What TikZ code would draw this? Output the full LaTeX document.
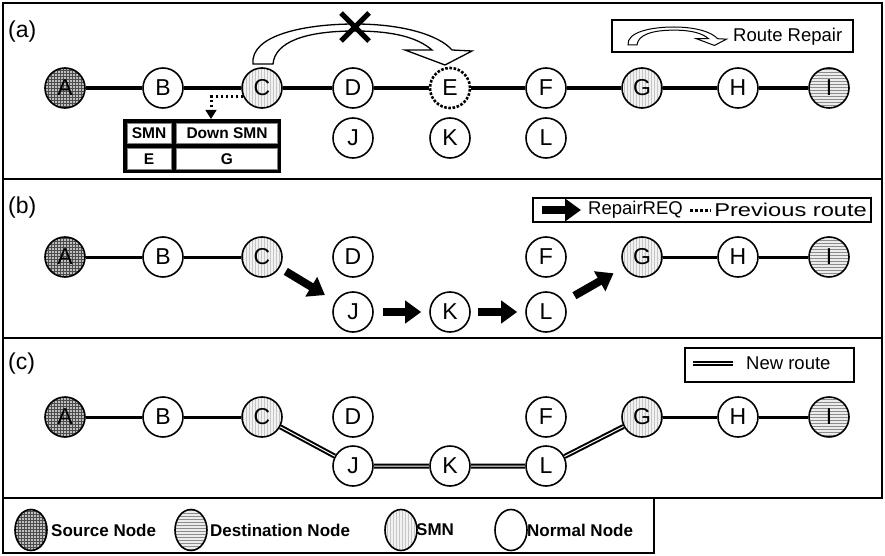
\documentclass[tikz,border=0pt]{standalone}
\usepackage{fontspec}
\setmainfont{Liberation Sans}
\usetikzlibrary{arrows.meta,patterns,shapes.geometric,calc}
\newcommand\RRdraw[1]{\draw[#1] (253,64) .. controls (250,35) and (305,24) .. (355,24)
 .. controls (405,24) and (440,36) .. (452,50)
 -- (472,51) -- (445,65) -- (405,50) -- (432,50)
 .. controls (418,38) and (395,31) .. (355,31)
 .. controls (305,31) and (275,42) .. (273,64) -- cycle;}
\begin{document}
\begin{tikzpicture}[x=1pt,y=-1pt,
 nd/.style={circle,draw,line width=1.6pt,minimum size=40pt,inner sep=0pt,font=\fontsize{23}{23}\selectfont},
 nrm/.style={nd,fill=white},
 src/.style={nd,preaction={fill=gray!50},pattern=grid,pattern color=black!70},
 dst/.style={nd,preaction={fill=gray!15},pattern=horizontal lines,pattern color=gray!90},
 smn/.style={nd,preaction={fill=gray!10},pattern=vertical lines,pattern color=gray!45},
 lell/.style={ellipse,minimum width=32pt,minimum height=41pt},
 frame/.style={line width=2.2pt},
 lbl/.style={font=\fontsize{23}{23}\selectfont,anchor=west,inner sep=0pt},
 lgt/.style={font=\fontsize{18.5}{18.5}\selectfont,anchor=west,inner sep=0pt},
 lgb/.style={font=\fontsize{17}{17}\selectfont\bfseries,anchor=west,inner sep=0pt},
 tbt/.style={font=\fontsize{15.5}{15.5}\selectfont\bfseries,inner sep=0pt},
 link/.style={line width=3pt},
 linka/.style={line width=4pt},
 blk/.style={line width=8pt,-{Triangle[length=16pt,width=22pt]}},
 newr/.style={double,double distance=1pt,line width=2pt},
 dotr/.style={line width=3pt,dash pattern=on 2.5pt off 2.5pt},
 lgbox/.style={draw,line width=1.5pt}
]
\useasboundingbox (0,0) rectangle (885,556);
% frames
\draw[frame] (3,3) rectangle (882,179);
\draw[frame] (3,179) rectangle (882,338);
\draw[frame] (3,338) rectangle (882,498);
\draw[frame] (3,498) rectangle (654,553);
\node[lbl] (la) at (8,32) {(a)};
\node[lbl] (lb) at (8,208) {(b)};
\node[lbl] (lc) at (8,364) {(c)};

% ---------- panel (a)
\node[src] (Aa) at (65,88) {A};
\node[nrm] (Ba) at (163,88) {B};
\node[smn] (Ca) at (262,88) {C};
\node[nrm] (Da) at (353,88) {D};
\node[nrm,line width=2.6pt,dash pattern=on 2.6pt off 1.6pt] (Ea) at (450,88) {E};
\node[nrm] (Fa) at (546,88) {F};
\node[smn] (Ga) at (642,88) {G};
\node[nrm] (Ha) at (738,88) {H};
\node[dst] (Ia) at (829,88) {I};
\node[nrm] (Ja) at (353,138) {J};
\node[nrm] (Ka) at (450,138) {K};
\node[nrm] (La) at (546,138) {L};
\draw[linka] (Aa)--(Ba)--(Ca)--(Da)--(Ea)--(Fa)--(Ga)--(Ha)--(Ia);
\RRdraw{line width=1.3pt,fill=white}
\draw[line width=5pt] (341,13)--(369,41) (341,41)--(369,13);
% table
\fill (123,119) rectangle (281,173);
\draw[draw=gray,line width=0.6pt,fill=white] (127,123) rectangle (171,143);
\draw[draw=gray,line width=0.6pt,fill=white] (176,123) rectangle (277,143);
\draw[draw=gray,line width=0.6pt,fill=white] (127,148) rectangle (171,169);
\draw[draw=gray,line width=0.6pt,fill=white] (176,148) rectangle (277,169);
\node[tbt] (t11) at (149,133) {SMN};
\node[tbt] (t12) at (227,133) {Down SMN};
\node[tbt] (t21) at (149,159) {E};
\node[tbt] (t22) at (227,159) {G};
\coordinate (tin) at (211,119);
\draw[line width=3pt,dash pattern=on 2.5pt off 2.5pt] (Ca.205) -| ($(tin)+(0,-8)$);
\draw[-{Triangle[length=9pt,width=11pt]},line width=1pt] ($(tin)+(0,-9)$) -- (tin);
% legend (a)
\draw[lgbox] (612,20) rectangle (853,52);
\begin{scope}[shift={(514.15,16.2)},scale=0.45]
\RRdraw{line width=1pt,fill=white}
\end{scope}
\node[lgt] (rrt) at (733,37) {Route Repair};

% ---------- panel (b)
\node[src] (Ab) at (65,257) {A};
\node[nrm] (Bb) at (163,257) {B};
\node[smn] (Cb) at (262,257) {C};
\node[nrm] (Db) at (353,257) {D};
\node[nrm] (Fb) at (546,257) {F};
\node[smn] (Gb) at (642,257) {G};
\node[nrm] (Hb) at (738,257) {H};
\node[dst] (Ib) at (829,257) {I};
\node[nrm] (Jb) at (353,312) {J};
\node[nrm] (Kb) at (450,312) {K};
\node[nrm] (Lb) at (546,312) {L};
\draw[link] (Ab)--(Bb)--(Cb);
\draw[link] (Gb)--(Hb)--(Ib);
\draw[blk,shorten <=7pt,shorten >=12pt] (Cb)--(Jb);
\draw[blk,shorten <=9pt,shorten >=8pt] (Jb)--(Kb);
\draw[blk,shorten <=7pt,shorten >=8pt] (Kb)--(Lb);
\draw[blk,shorten <=12pt,shorten >=12pt] (Lb)--(Gb);
% legend (b)
\draw[lgbox] (533,198) rectangle (871,222);
\coordinate (ra1) at (542,210);
\coordinate (ra2) at (581,210);
\draw[blk] (ra1)--(ra2);
\node[lgt] (rqt) at (588,210) {RepairREQ};
\coordinate (pr1) at (690,210);
\coordinate (pr2) at (711,210);
\draw[dotr] (pr1)--(pr2);
\node[lgt,xscale=1.28] (prt) at (714,210) {Previous route};

% ---------- panel (c)
\node[src] (Ac) at (65,417) {A};
\node[nrm] (Bc) at (163,417) {B};
\node[smn] (Cc) at (262,417) {C};
\node[nrm] (Dc) at (353,417) {D};
\node[nrm] (Fc) at (546,417) {F};
\node[smn] (Gc) at (642,417) {G};
\node[nrm] (Hc) at (738,417) {H};
\node[dst] (Ic) at (829,417) {I};
\node[nrm] (Jc) at (353,466) {J};
\node[nrm] (Kc) at (450,466) {K};
\node[nrm] (Lc) at (546,466) {L};
\draw[link] (Ac)--(Bc)--(Cc);
\draw[link] (Gc)--(Hc)--(Ic);
\draw[newr] (Cc)--(Jc)--(Kc)--(Lc)--(Gc);
% legend (c)
\draw[lgbox] (685,348) rectangle (854,382);
\coordinate (nr1) at (693,363);
\coordinate (nr2) at (733,363);
\draw[newr] (nr1)--(nr2);
\node[lgt] (nrt) at (746,363) {New route};

% ---------- bottom legend
\node[src,lell] (ls) at (31,530) {};
\node[lgb] (lst) at (51,530) {Source Node};
\node[dst,lell] (ld) at (191,530) {};
\node[lgb] (ldt) at (210,530) {Destination Node};
\node[smn,lell] (lm) at (401,530) {};
\node[lgb] (lmt) at (416,530) {SMN};
\node[nrm,lell] (ln) at (511,530) {};
\node[lgb] (lnt) at (527,530) {Normal Node};
\end{tikzpicture}
\end{document}
